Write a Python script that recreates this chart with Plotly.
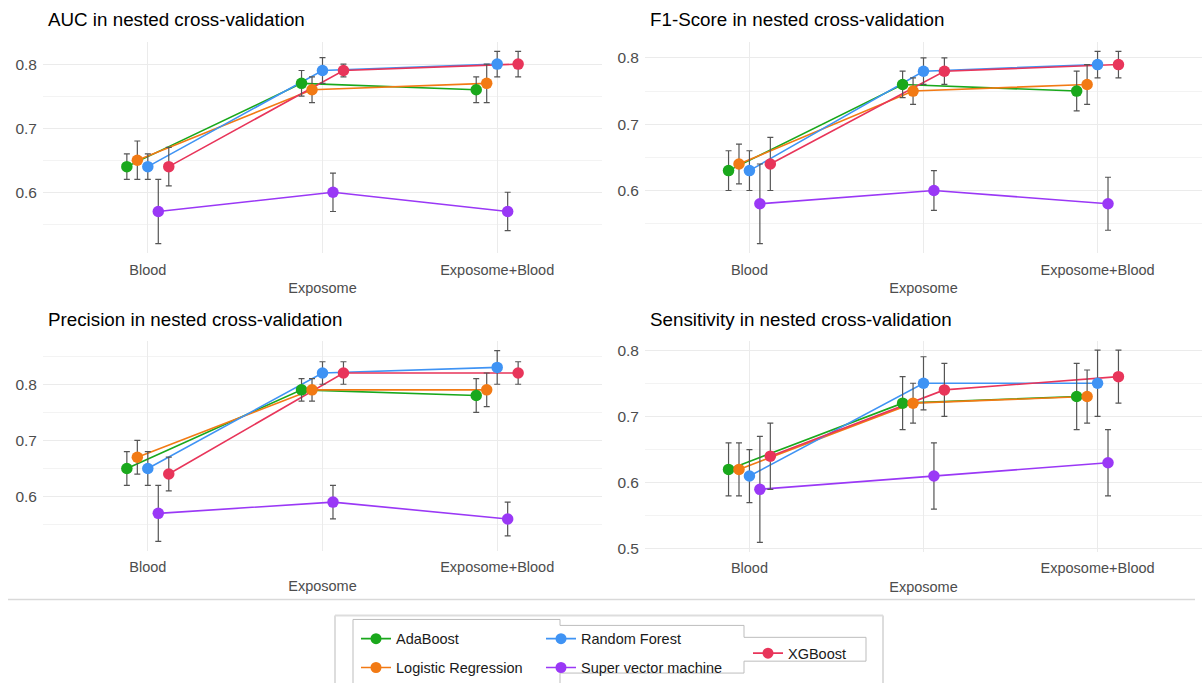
import plotly.graph_objects as go
import numpy as np

# ---------------- data ----------------
categories = ["Blood", "Exposome", "Exposome+Blood"]
tick_labels = ["Blood", "<br>Exposome", "Exposome+Blood"]
models = ["AdaBoost", "Logistic Regression", "Random Forest", "Super vector machine", "XGBoost"]
colors = ["#1AA81C", "#F27A14", "#3F93F4", "#9A38F6", "#E8355A"]

auc_mean = {"AdaBoost": [0.64, 0.77, 0.76], "Logistic Regression": [0.65, 0.76, 0.77],
            "Random Forest": [0.64, 0.79, 0.80], "Super vector machine": [0.57, 0.60, 0.57],
            "XGBoost": [0.64, 0.79, 0.80]}
auc_low = {"AdaBoost": [0.62, 0.75, 0.74], "Logistic Regression": [0.62, 0.74, 0.74],
           "Random Forest": [0.62, 0.77, 0.78], "Super vector machine": [0.52, 0.57, 0.54],
           "XGBoost": [0.61, 0.78, 0.78]}
auc_high = {"AdaBoost": [0.66, 0.79, 0.78], "Logistic Regression": [0.68, 0.78, 0.80],
            "Random Forest": [0.66, 0.81, 0.82], "Super vector machine": [0.62, 0.63, 0.60],
            "XGBoost": [0.67, 0.80, 0.82]}

f1_mean = {"AdaBoost": [0.63, 0.76, 0.75], "Logistic Regression": [0.64, 0.75, 0.76],
           "Random Forest": [0.63, 0.78, 0.79], "Super vector machine": [0.58, 0.60, 0.58],
           "XGBoost": [0.64, 0.78, 0.79]}
f1_low = {"AdaBoost": [0.60, 0.74, 0.72], "Logistic Regression": [0.61, 0.73, 0.73],
          "Random Forest": [0.60, 0.76, 0.77], "Super vector machine": [0.52, 0.57, 0.54],
          "XGBoost": [0.60, 0.76, 0.77]}
f1_high = {"AdaBoost": [0.66, 0.78, 0.78], "Logistic Regression": [0.67, 0.77, 0.79],
           "Random Forest": [0.66, 0.80, 0.81], "Super vector machine": [0.64, 0.63, 0.62],
           "XGBoost": [0.68, 0.80, 0.81]}

prec_mean = {"AdaBoost": [0.65, 0.79, 0.78], "Logistic Regression": [0.67, 0.79, 0.79],
             "Random Forest": [0.65, 0.82, 0.83], "Super vector machine": [0.57, 0.59, 0.56],
             "XGBoost": [0.64, 0.82, 0.82]}
prec_low = {"AdaBoost": [0.62, 0.77, 0.75], "Logistic Regression": [0.64, 0.77, 0.76],
            "Random Forest": [0.62, 0.80, 0.80], "Super vector machine": [0.52, 0.56, 0.53],
            "XGBoost": [0.61, 0.80, 0.80]}
prec_high = {"AdaBoost": [0.68, 0.81, 0.81], "Logistic Regression": [0.70, 0.81, 0.82],
             "Random Forest": [0.68, 0.84, 0.86], "Super vector machine": [0.62, 0.62, 0.59],
             "XGBoost": [0.67, 0.84, 0.84]}

sens_mean = {"AdaBoost": [0.62, 0.72, 0.73], "Logistic Regression": [0.62, 0.72, 0.73],
             "Random Forest": [0.61, 0.75, 0.75], "Super vector machine": [0.59, 0.61, 0.63],
             "XGBoost": [0.64, 0.74, 0.76]}
sens_low = {"AdaBoost": [0.58, 0.68, 0.68], "Logistic Regression": [0.58, 0.69, 0.69],
            "Random Forest": [0.57, 0.71, 0.70], "Super vector machine": [0.51, 0.56, 0.58],
            "XGBoost": [0.59, 0.70, 0.72]}
sens_high = {"AdaBoost": [0.66, 0.76, 0.78], "Logistic Regression": [0.66, 0.75, 0.77],
             "Random Forest": [0.65, 0.79, 0.80], "Super vector machine": [0.67, 0.66, 0.68],
             "XGBoost": [0.69, 0.78, 0.80]}

panel_titles = ["AUC in nested cross-validation", "F1-Score in nested cross-validation",
                "Precision in nested cross-validation", "Sensitivity in nested cross-validation"]
panel_data = [(auc_mean, auc_low, auc_high), (f1_mean, f1_low, f1_high),
              (prec_mean, prec_low, prec_high), (sens_mean, sens_low, sens_high)]

# ---------------- layout helpers ----------------
W, H = 1203, 688
def px(x):
    return x / W
def py(y):
    return 1 - y / H

FONT = "Liberation Sans, Arial, sans-serif"
dodge_width = 0.3
panel_boxes = [(43, 602, 42, 255), (645, 1202, 42, 255), (43, 602, 343.5, 555), (645, 1202, 343, 556)]
title_pos = [(46, 20), (648, 20), (46, 322), (648, 322)]

fig = go.Figure()
layout_axes = {}
cat_idx = np.arange(len(categories))
n = len(models)

for p, (mean_d, low_d, high_d) in enumerate(panel_data):
    xa = "x" if p == 0 else f"x{p+1}"
    ya = "y" if p == 0 else f"y{p+1}"
    xs = {}
    for k, m in enumerate(models):
        xs[m] = cat_idx + (k - (n - 1) / 2) * dodge_width / n
    # lines layer
    for k, m in enumerate(models):
        fig.add_trace(go.Scatter(x=xs[m], y=mean_d[m], mode="lines", xaxis=xa, yaxis=ya,
                                 line=dict(color=colors[k], width=1.6), showlegend=False,
                                 hoverinfo="skip"))
    # errorbar layer
    for k, m in enumerate(models):
        mv = np.array(mean_d[m]); lv = np.array(low_d[m]); hv = np.array(high_d[m])
        fig.add_trace(go.Scatter(x=xs[m], y=mv, mode="markers", xaxis=xa, yaxis=ya,
                                 marker=dict(size=1, opacity=0),
                                 error_y=dict(type="data", symmetric=False, array=hv - mv,
                                              arrayminus=mv - lv, color="#555555",
                                              thickness=1.2, width=3),
                                 showlegend=False, hoverinfo="skip"))
    # points layer
    for k, m in enumerate(models):
        fig.add_trace(go.Scatter(x=xs[m], y=mean_d[m], mode="markers", xaxis=xa, yaxis=ya,
                                 marker=dict(color=colors[k], size=11.5, line=dict(width=0)),
                                 name=m, showlegend=False))
    lo = min(min(v) for v in low_d.values())
    hi = max(max(v) for v in high_d.values())
    pad = (hi - lo) * 0.05
    x0, x1, y0, y1 = panel_boxes[p]
    key_x = "xaxis" if p == 0 else f"xaxis{p+1}"
    key_y = "yaxis" if p == 0 else f"yaxis{p+1}"
    layout_axes[key_x] = dict(domain=[px(x0), px(x1)], anchor=ya, range=[-0.6, 2.6],
                              tickvals=list(cat_idx), ticktext=tick_labels, showgrid=True,
                              gridcolor="#EBEBEB", gridwidth=1.3, zeroline=False, showline=False,
                              ticks="", ticklabelstandoff=6,
                              tickfont=dict(family=FONT, size=14.5, color="#4D4D4D"),
                              fixedrange=True)
    layout_axes[key_y] = dict(domain=[py(y1), py(y0)], anchor=xa, range=[lo - pad, hi + pad],
                              tick0=0, dtick=0.1, tickformat=".1f", showgrid=True,
                              gridcolor="#EBEBEB", gridwidth=1.3, zeroline=False, showline=False,
                              ticks="", ticklabelstandoff=5,
                              tickfont=dict(family=FONT, size=15.5, color="#4D4D4D"),
                              minor=dict(dtick=0.05, tick0=0, showgrid=True, gridcolor="#F3F3F3",
                                         gridwidth=0.8),
                              fixedrange=True)

# legend entries (one trace per model, no data drawn)
legend_of = ["legend", "legend", "legend2", "legend2", "legend3"]
for k, m in enumerate(models):
    fig.add_trace(go.Scatter(x=[None], y=[None], mode="lines+markers", name=m,
                             line=dict(color=colors[k], width=1.6),
                             marker=dict(color=colors[k], size=11),
                             legend=legend_of[k], legendgroup=m, showlegend=True))

annotations = []
for p, t in enumerate(panel_titles):
    tx, ty = title_pos[p]
    annotations.append(dict(text=t, x=px(tx), y=py(ty), xref="paper", yref="paper",
                            xanchor="left", yanchor="middle", showarrow=False,
                            font=dict(family=FONT, size=18.8, color="#000000")))

def seg(xa_, ya_, xb_, yb_, color, width):
    return dict(type="line", xref="paper", yref="paper", x0=px(xa_), y0=py(ya_),
                x1=px(xb_), y1=py(yb_), line=dict(color=color, width=width))

box_c = "#BDBDBD"
shapes = [
    seg(8, 604, 1195, 604, "#D9D9D9", 1.5),
    # outer legend box
    seg(335, 620, 883, 620, "#DDDDDD", 2), seg(335, 620, 335, 688, "#DDDDDD", 2),
    seg(883, 620, 883, 688, "#DDDDDD", 2),
    # legend 1 box
    seg(353, 624, 560, 624, box_c, 1), seg(353, 624, 353, 688, box_c, 1),
    seg(560, 624, 560, 630, box_c, 1), seg(560, 678, 560, 688, box_c, 1),
    # legend 2 box
    seg(560, 630, 744, 630, box_c, 1), seg(560, 678, 744, 678, box_c, 1),
    seg(744, 630, 744, 642, box_c, 1), seg(744, 666, 744, 678, box_c, 1),
    # legend 3 box
    seg(744, 642, 866, 642, box_c, 1), seg(744, 666, 866, 666, box_c, 1),
    seg(866, 642, 866, 666, box_c, 1),
]

leg_font = dict(family=FONT, size=14.5, color="#1A1A1A")
common_leg = dict(font=leg_font, bgcolor="rgba(0,0,0,0)", borderwidth=0, orientation="v",
                  xanchor="left", yanchor="middle", tracegroupgap=7, itemclick=False,
                  itemdoubleclick=False)

fig.update_layout(
    width=W, height=H, autosize=False,
    margin=dict(l=0, r=0, t=0, b=0),
    paper_bgcolor="white", plot_bgcolor="white",
    font=dict(family=FONT),
    annotations=annotations, shapes=shapes,
    legend=dict(x=px(356), y=py(658), **common_leg),
    legend2=dict(x=px(541), y=py(658), **common_leg),
    legend3=dict(x=px(748), y=py(658), **common_leg),
    **layout_axes,
)

fig.write_html("out.html", config={"displayModeBar": False},
               post_script="document.body.style.margin='0px';")
